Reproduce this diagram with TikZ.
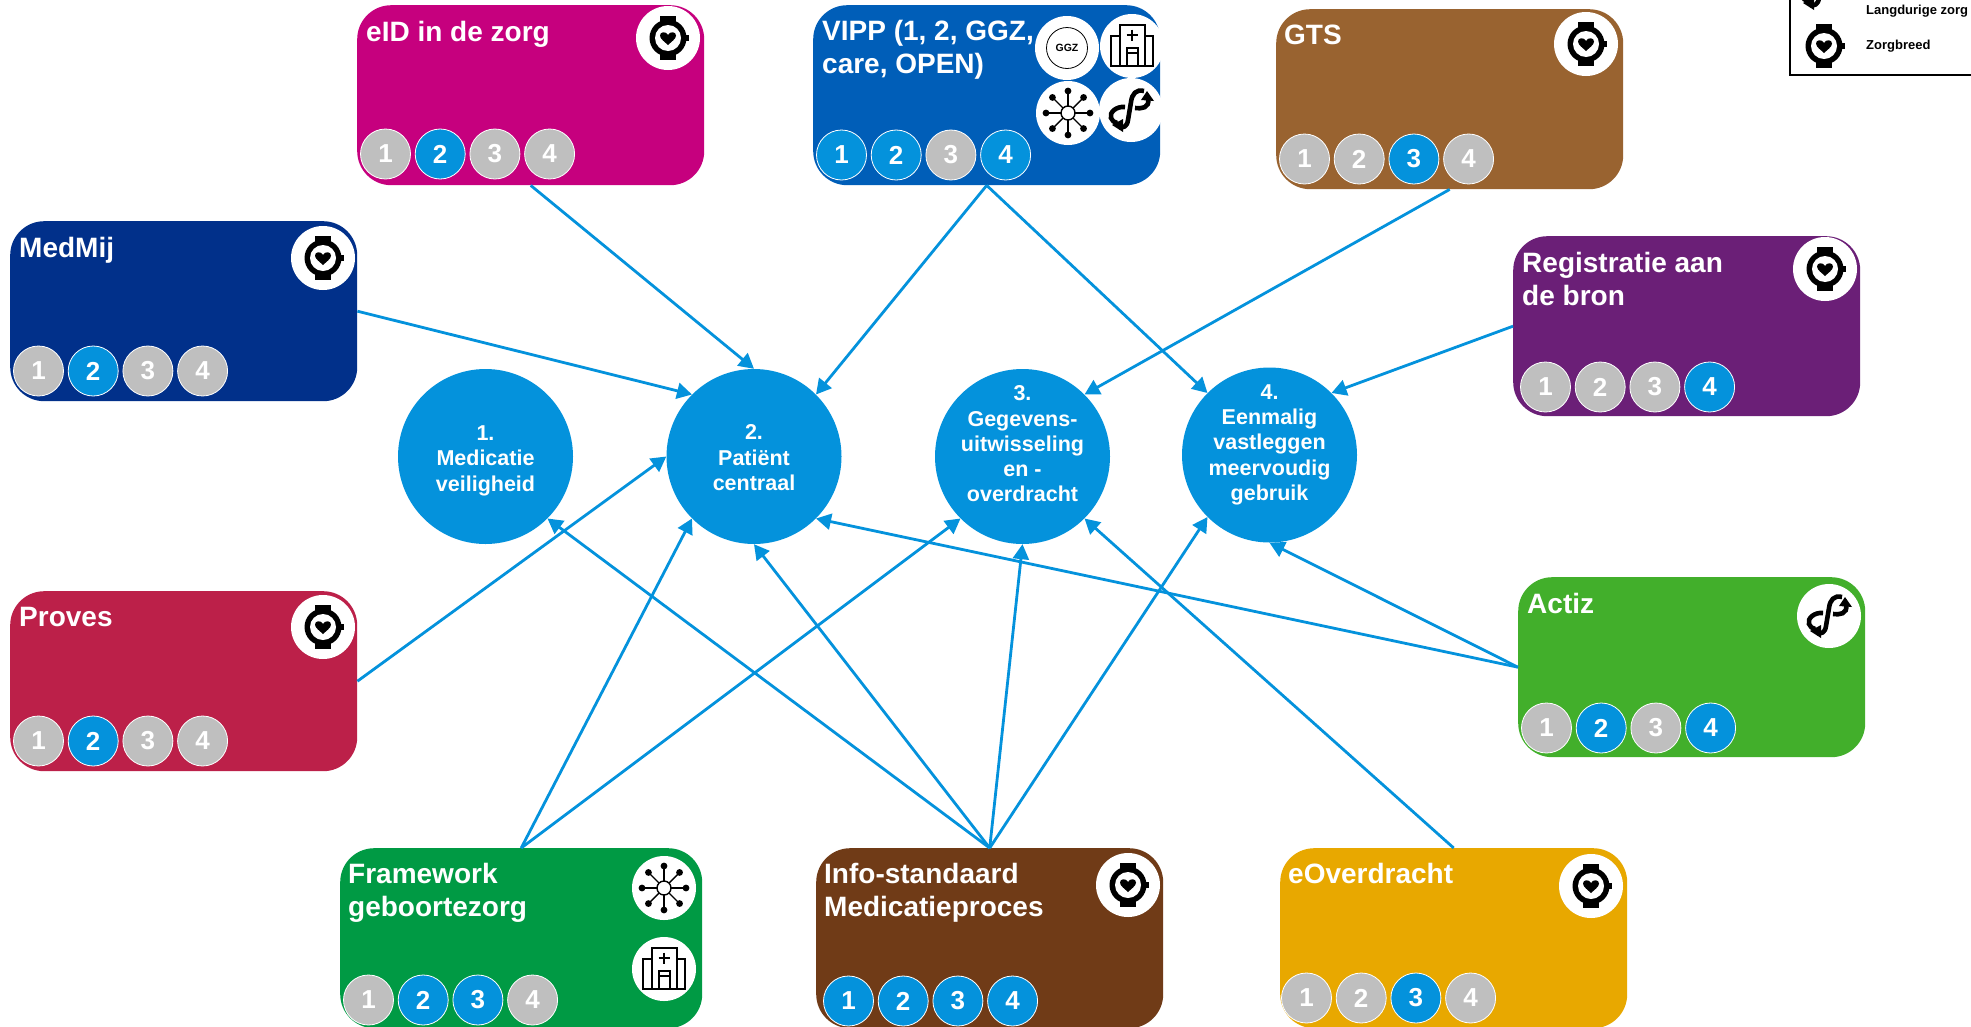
\documentclass[tikz,border=0pt]{standalone}
\usepackage{fontspec}
\setmainfont{Liberation Sans}
\usetikzlibrary{arrows.meta,calc}
\definecolor{aqua}{HTML}{0492DC}
\definecolor{cEid}{HTML}{C6007E}
\definecolor{cVipp}{HTML}{005EB8}
\definecolor{cGts}{HTML}{996330}
\definecolor{cMed}{HTML}{01308A}
\definecolor{cReg}{HTML}{6B1F77}
\definecolor{cPro}{HTML}{BC2049}
\definecolor{cAct}{HTML}{42AF2B}
\definecolor{cFra}{HTML}{009A44}
\definecolor{cInf}{HTML}{703B17}
\definecolor{cEov}{HTML}{E8A800}
\tikzset{
  x=1pt,y=-1pt,
  card/.style={rectangle,rounded corners=34pt,minimum width=347pt,minimum height=180pt,inner sep=0pt,anchor=north west},
  cardtitle/.style={anchor=north west,align=left,text=white,inner sep=0pt,font=\bfseries\fontsize{28}{33}\selectfont},
  goal/.style={circle,fill=aqua,minimum size=175pt,inner sep=-40pt,text=white,align=center,font=\bfseries\fontsize{21.5}{25.3}\selectfont},
  badgeon/.style={circle,fill=aqua,draw=white,line width=0.8pt,minimum size=50pt,inner sep=0pt,text=white,font=\bfseries\fontsize{26}{26}\selectfont},
  badgeoff/.style={badgeon,fill=black!25},
  iconbg/.style={circle,fill=white,minimum size=64pt,inner sep=0pt},
  link/.style={draw=aqua,line width=2.8pt,-{Triangle[length=15pt,width=16pt]},shorten >=0pt},
  legendtext/.style={anchor=west,inner sep=0pt,font=\bfseries\fontsize{13}{14}\selectfont},
  pics/watch/.style={code={
    \fill[black] (-8,-22) rectangle (8,22);
    \fill[black] (0,0) circle (18.5);
    \fill[black] (17,-3) rectangle (20.5,3);
    \fill[white] (0,0) circle (13);
    \fill[black] (0,7) .. controls (-3,4) and (-8,1) .. (-8,-2.5) .. controls (-8,-6.5) and (-2,-7) .. (0,-3)
       .. controls (2,-7) and (8,-6.5) .. (8,-2.5) .. controls (8,1) and (3,4) .. (0,7) -- cycle;
  }},
  pics/hosp/.style={code={
    \begin{scope}[draw=black,line width=1.5pt,line join=miter]
      \draw (-12,20) -- (-12,-21) -- (13,-21) -- (13,20);
      \draw (-12,-10) -- (-21,-10) -- (-21,20) -- (21,20) -- (21,-10) -- (13,-10);
      \draw (-5,20) -- (-5,2) -- (6,2) -- (6,20);
      \draw (-6,7) -- (7,7);
      \draw (-5.5,-11) -- (5.5,-11) (0,-16.5) -- (0,-5.5);
    \end{scope}
  }},
  pics/net/.style={code={
    \foreach \a in {0,45,...,315}{
      \draw[black,line width=1.4pt] (\a:7) -- (\a:22);
      \fill[black] (\a:22) circle (3.4);
    }
    \draw[black,line width=1.4pt,fill=white] (0,0) circle (7);
  }},
  pics/loopicon/.style={code={
    \draw[black,line width=4.6pt]
      (13,-19) .. controls (5,-21) and (1,-16) .. (0,-8) -- (-3,10)
      .. controls (-4,17) and (-8,18) .. (-12,17);
    \draw[black,line width=4.6pt]
      (-6,-3) .. controls (-14,-4) and (-22,2) .. (-20,8) .. controls (-19,11) and (-17,12) .. (-14,13);
    \draw[black,line width=4.6pt]
      (4,-2) .. controls (10,-1) and (19,-2) .. (17,-11);
    \fill[black] (16,-19) -- (10,-10) -- (23,-9) -- cycle;
    \fill[black] (-19,15) -- (-8,9) -- (-8,22) -- cycle;
  }},
}
% #1 card, #2 badge offset, #3-#6 badge styles
\newcommand{\badges}[6]{%
  \coordinate (#1-o) at ($(#1.north west)+(28.5,150)+#2$);
  \node[#3] (#1-1) at (#1-o) {1};
  \node[#4] (#1-2) at ($(#1-o)+(54.7,0)$) {2};
  \node[#5] (#1-3) at ($(#1-o)+(109.4,0)$) {3};
  \node[#6] (#1-4) at ($(#1-o)+(164.1,0)$) {4};
}
\begin{document}
\begin{tikzpicture}
\useasboundingbox (0,0) rectangle (1971,1026);
\clip (0,0) rectangle (1971,1026);
% cards
\node[card,fill=cEid] (eid) at (357,5) {};
\node[card,fill=cVipp] (vipp) at (813,5) {};
\node[card,fill=cGts] (gts) at (1276,9) {};
\node[card,fill=cMed] (med) at (10,221) {};
\node[card,fill=cReg] (reg) at (1513,236) {};
\node[card,fill=cPro] (pro) at (10,591) {};
\node[card,fill=cAct] (act) at (1518,577) {};
\node[card,fill=cFra,minimum width=362pt] (fra) at (340,848) {};
\node[card,fill=cInf] (inf) at (816,848) {};
\node[card,fill=cEov] (eov) at (1280,848) {};
% titles
\node[cardtitle] (t-eid) at (366,21) {eID in de zorg};
\node[cardtitle] (t-vipp) at (822,20) {VIPP (1, 2, GGZ,\\care, OPEN)};
\node[cardtitle] (t-gts) at (1284,25) {GTS};
\node[cardtitle] (t-med) at (19,237) {MedMij};
\node[cardtitle] (t-reg) at (1522,252) {Registratie aan\\de bron};
\node[cardtitle] (t-pro) at (19,607) {Proves};
\node[cardtitle] (t-act) at (1527,593) {Actiz};
\node[cardtitle] (t-fra) at (348,863) {Framework\\geboortezorg};
\node[cardtitle] (t-inf) at (824,863) {Info-standaard\\Medicatieproces};
\node[cardtitle] (t-eov) at (1288,863) {eOverdracht};
% badges
\badges{eid}{(0,-1)}{badgeoff}{badgeon}{badgeoff}{badgeoff}
\badges{vipp}{(0,0)}{badgeon}{badgeon}{badgeoff}{badgeon}
\badges{gts}{(0,0)}{badgeoff}{badgeoff}{badgeon}{badgeoff}
\badges{med}{(0,0)}{badgeoff}{badgeon}{badgeoff}{badgeoff}
\badges{reg}{(4,1)}{badgeoff}{badgeoff}{badgeoff}{badgeon}
\badges{pro}{(0,0)}{badgeoff}{badgeon}{badgeoff}{badgeoff}
\badges{act}{(0,1)}{badgeoff}{badgeon}{badgeoff}{badgeon}
\badges{fra}{(0,2)}{badgeoff}{badgeon}{badgeon}{badgeoff}
\badges{inf}{(4,3)}{badgeon}{badgeon}{badgeon}{badgeon}
\badges{eov}{(-2,0)}{badgeoff}{badgeoff}{badgeon}{badgeoff}
% icons
\node[iconbg] (i-eid) at (668,38) {}; \pic at (i-eid) {watch};
\node[iconbg] (i-gts) at (1586,44) {}; \pic at (i-gts) {watch};
\node[iconbg] (i-med) at (323,258) {}; \pic at (i-med) {watch};
\node[iconbg] (i-reg) at (1825,269) {}; \pic at (i-reg) {watch};
\node[iconbg] (i-pro) at (323,627) {}; \pic at (i-pro) {watch};
\node[iconbg] (i-inf) at (1128,885) {}; \pic at (i-inf) {watch};
\node[iconbg] (i-eov) at (1591,886) {}; \pic at (i-eov) {watch};
\node[iconbg] (i-act) at (1829,616) {}; \pic at (i-act) {loopicon};
\node[iconbg] (i-v1) at (1067,48) {};
\node[circle,draw=black,line width=0.8pt,minimum size=41pt,inner sep=0pt,font=\bfseries\fontsize{10.5}{12}\selectfont] (ggz) at (i-v1) {GGZ};
\node[iconbg] (i-v2) at (1132,46) {}; \pic at (i-v2) {hosp};
\node[iconbg] (i-v3) at (1068,113) {}; \pic at (i-v3) {net};
\node[iconbg] (i-v4) at (1131,110) {}; \pic at (i-v4) {loopicon};
\node[iconbg] (i-f1) at (664,888) {}; \pic at (i-f1) {net};
\node[iconbg] (i-f2) at (664,969) {}; \pic at (i-f2) {hosp};
% goals
\node[goal] (c1) at (485.5,456.5) {\rule{0pt}{23.5pt}1.\\Medicatie\\veiligheid};
\node[goal] (c2) at (754,456.5) {\rule{0pt}{2.5ex}2.\\Patiënt\\centraal\rule[-1ex]{0pt}{1ex}};
\node[goal] (c3) at (1022.5,456.5) {3.\\Gegevens-\\uitwisseling\\en -\\overdracht\\~};
\node[goal] (c4) at (1269.5,455) {4.\\Eenmalig\\vastleggen\\meervoudig\\gebruik\\~};
% connectors
\draw[link] (eid.south) -- (c2.north);
\draw[link] (vipp.south) -- (c2.45);
\draw[link] (vipp.south) -- (c4.135);
\draw[link] (gts.south) -- (c3.45);
\draw[link] (med.east) -- (c2.135);
\draw[link] (reg.west) -- (c4.45);
\draw[link] (pro.east) -- (c2.west);
\draw[link] (act.west) -- (c2.315);
\draw[link] (act.west) -- (c4.south);
\draw[link] (fra.north) -- (c2.225);
\draw[link] (fra.north) -- (c3.225);
\draw[link] (inf.north) -- (c1.315);
\draw[link] (inf.north) -- (c2.south);
\draw[link] (inf.north) -- (c3.south);
\draw[link] (inf.north) -- (c4.225);
\draw[link] (eov.north) -- (c3.315);
% legend
\node[draw=black,line width=2.2pt,fill=white,rectangle,anchor=north west,inner sep=0pt,minimum width=200pt,minimum height=90pt] (legend) at (1789,-16) {};
\coordinate (l-loop) at (1822,-12);
\pic at (l-loop) {loopicon};
\coordinate (l-watch) at (1824,46);
\pic at (l-watch) {watch};
\node[legendtext] (l-t1) at (1866,11) {Langdurige zorg};
\node[legendtext] (l-t2) at (1866,46) {Zorgbreed};
\end{tikzpicture}
\end{document}
